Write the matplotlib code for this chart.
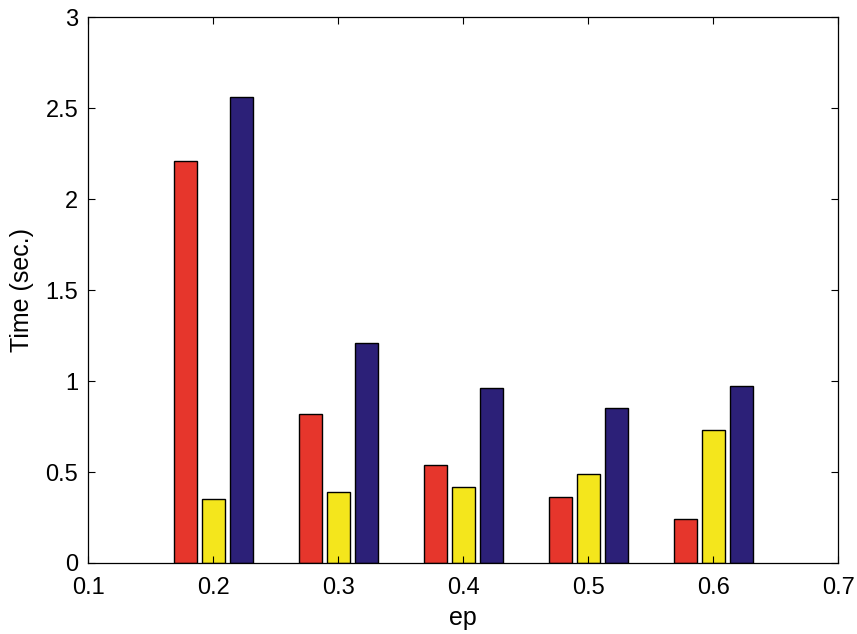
import matplotlib
matplotlib.use("Agg")
import matplotlib.pyplot as plt
import numpy as np

plt.rcParams['font.family'] = ['Liberation Sans', 'DejaVu Sans']

ep = [0.2, 0.3, 0.4, 0.5, 0.6]
red_vals = [2.21, 0.82, 0.54, 0.36, 0.24]
yellow_vals = [0.35, 0.39, 0.42, 0.49, 0.73]
blue_vals = [2.56, 1.21, 0.96, 0.85, 0.97]
series = [red_vals, yellow_vals, blue_vals]
colors = ['#e6362c', '#f4e61c', '#2c2078']

fig = plt.figure(figsize=(8.57, 6.34), dpi=100)
ax = fig.add_axes([0.1027, 0.112, 0.8753, 0.861])

x = np.array(ep)
offsets = [-0.0224, 0.0, 0.0224]
width = 0.0184
for vals, off, c in zip(series, offsets, colors):
    ax.bar(x + off, vals, width=width, color=c, edgecolor='black', linewidth=1.0)

ax.set_xlim(0.1, 0.7)
ax.set_ylim(0, 3)
ax.set_xticks([0.1, 0.2, 0.3, 0.4, 0.5, 0.6, 0.7])
ax.set_xticklabels(['0.1', '0.2', '0.3', '0.4', '0.5', '0.6', '0.7'])
ax.set_yticks([0, 0.5, 1, 1.5, 2, 2.5, 3])
ax.set_yticklabels(['0', '0.5', '1', '1.5', '2', '2.5', '3'])
ax.tick_params(direction='in', top=True, right=True, labelsize=17, length=5, width=0.8)
ax.tick_params(axis='x', pad=10)
ax.tick_params(axis='y', pad=7)
ax.set_xlabel('ep', fontsize=18, labelpad=5)
ax.set_ylabel('Time (sec.)', fontsize=18, labelpad=8)
for s in ax.spines.values():
    s.set_linewidth(0.9)

fig.savefig('out.png', dpi=100)
